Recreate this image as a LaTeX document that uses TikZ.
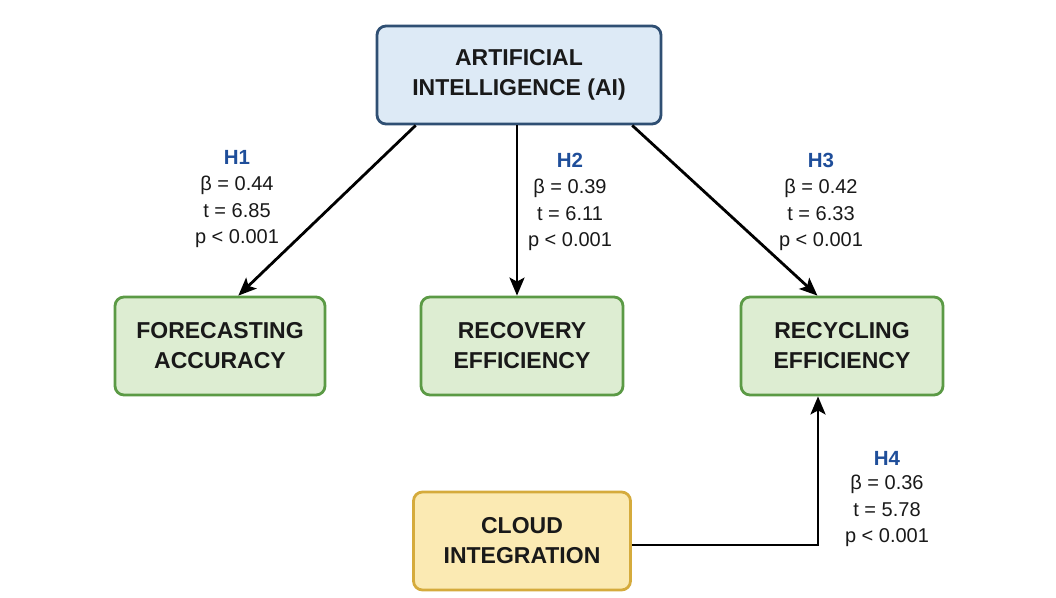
\documentclass[tikz,border=0pt]{standalone}
\usepackage{fontspec}
\setmainfont{Liberation Sans}
\usepackage{xcolor}
\definecolor{aifill}{HTML}{DDEAF6}
\definecolor{aidraw}{HTML}{2F4F73}
\definecolor{outfill}{HTML}{DDEDD2}
\definecolor{outdraw}{HTML}{5B9A45}
\definecolor{cloudfill}{HTML}{FBEAB3}
\definecolor{clouddraw}{HTML}{D5AB3C}
\definecolor{hypcolor}{HTML}{1F4E9A}
\usetikzlibrary{arrows.meta,calc,positioning}

\tikzset{
	box/.style={rounded corners=9pt, line width=2.8pt, align=center, minimum height=98pt,
		font=\fontsize{23}{30}\selectfont\bfseries, text=black!90},
	hyp/.style={font=\fontsize{20.5}{24}\selectfont\bfseries, text=hypcolor},
	stats/.style={align=center, font=\fontsize{20}{26.5}\selectfont, text=black!90},
	link/.style={line width=2.8pt, -{Stealth[length=18pt, width=15pt, inset=4pt]}}
}

\begin{document}
\begin{tikzpicture}[x=1pt, y=-1pt]
	\useasboundingbox [fill=white] (0, 0) rectangle (1056, 597);
	% boxes
	\node [box, draw=aidraw, fill=aifill, minimum width=284pt] (ai) at (519, 75) {ARTIFICIAL\\INTELLIGENCE (AI)};
	\node [box, draw=outdraw, fill=outfill, minimum width=210pt] (fc) at (220, 346) {FORECASTING\\ACCURACY};
	\node [box, draw=outdraw, fill=outfill, minimum width=202pt] (rv) at (522, 346) {RECOVERY\\EFFICIENCY};
	\node [box, draw=outdraw, fill=outfill, minimum width=202pt] (rc) at (842, 346) {RECYCLING\\EFFICIENCY};
	\node [box, draw=clouddraw, fill=cloudfill, minimum width=217pt] (cl) at (522, 541) {CLOUD\\INTEGRATION};
	% paths
	\draw [link] (ai.-154) -- (fc.70);
	\draw [link] ($(ai.south)+(-2,0)$) -- ($(rv.north)+(-5,0)$);
	\draw [link] (ai.-24) -- (rc.116);
	\coordinate (h4turn) at ($(rc.south)+(-24,0)$);
	\draw [link] ($(cl.east)+(0,4)$) -| (h4turn);
	% hypotheses
	\node [hyp] (h1) at (237, 157) {H1};
	\node [stats, below=5pt of h1] (s1) {β = 0.44\\t = 6.85\\p < 0.001};
	\node [hyp] (h2) at (570, 160) {H2};
	\node [stats, below=5pt of h2] (s2) {β = 0.39\\t = 6.11\\p < 0.001};
	\node [hyp] (h3) at (821, 160) {H3};
	\node [stats, below=5pt of h3] (s3) {β = 0.42\\t = 6.33\\p < 0.001};
	\node [hyp] (h4) at (887, 458) {H4};
	\node [stats, below=3pt of h4] (s4) {β = 0.36\\t = 5.78\\p < 0.001};
\end{tikzpicture}
\end{document}
